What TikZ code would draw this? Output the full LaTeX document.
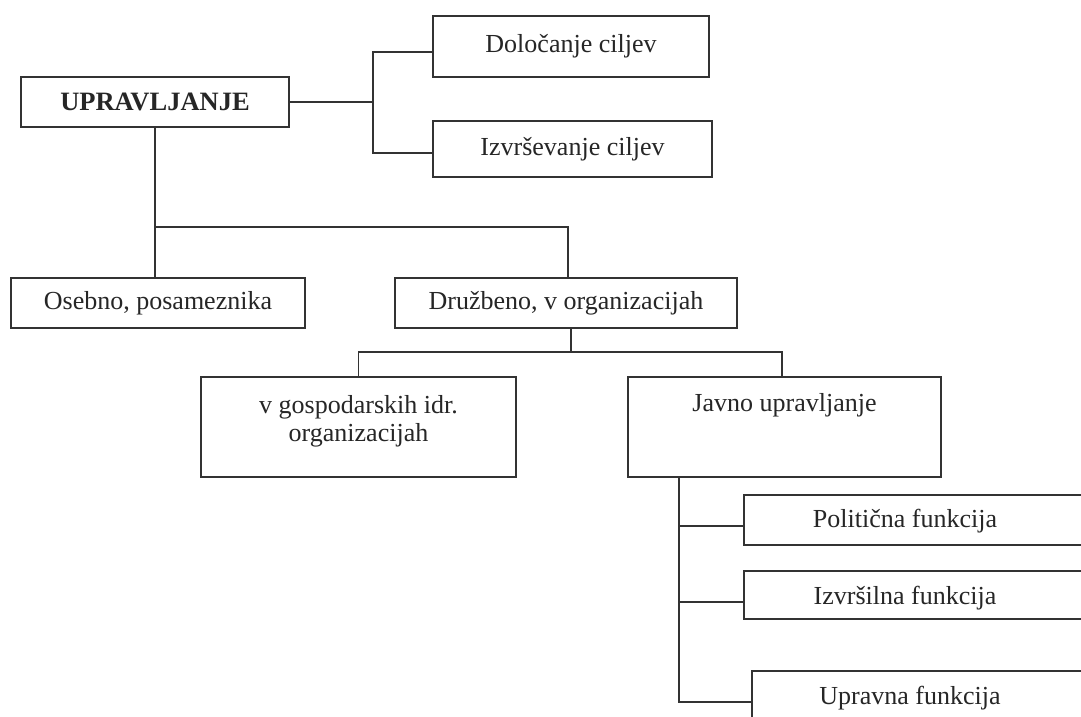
\documentclass[tikz,border=0pt]{standalone}
\usepackage{fontspec}
\setmainfont{Liberation Serif}
\begin{document}
\begin{tikzpicture}[x=1pt,y=-1pt,
  box/.style={draw=black!80,line width=1.4pt,rectangle,inner sep=0pt,
    font=\fontsize{26}{28}\selectfont,text=black!85},
  conn/.style={draw=black!80,line width=1.4pt},
  lab/.style={font=\fontsize{26}{28}\selectfont,text=black!85,align=center,inner sep=0pt}]
\useasboundingbox (0,0) rectangle (1081,716);
\fill[white] (0,0) rectangle (1081,716);
\clip (0,0) rectangle (1081,716);
% nodes
\node[box,minimum width=268,minimum height=50,font=\fontsize{26.5}{28}\selectfont\bfseries] (up) at (155,102) {UPRAVLJANJE};
\node[box,minimum width=276,minimum height=61] (dol) at (571,46.5) {Določanje ciljev};
\node[box,minimum width=279,minimum height=56] (izv) at (572.5,149) {Izvrševanje ciljev};
\node[box,minimum width=294,minimum height=50] (os) at (158,303) {Osebno, posameznika};
\node[box,minimum width=342,minimum height=50] (dr) at (566,303) {Družbeno, v organizacijah};
\node[box,minimum width=315,minimum height=100,
  label={[lab,yshift=6]center:v gospodarskih idr.\\organizacijah}] (gos) at (358.5,427) {};
\node[box,minimum width=313,minimum height=100,
  label={[lab,yshift=22]center:Javno upravljanje}] (jav) at (784.5,427) {};
\node[box,minimum width=356,minimum height=50,
  label={[lab,xshift=-17,yshift=-1]center:Politična funkcija}] (pol) at (922,520) {};
\node[box,minimum width=356,minimum height=48,
  label={[lab,xshift=-17,yshift=-3]center:Izvršilna funkcija}] (izf) at (922,595) {};
\node[box,minimum width=348,minimum height=62,
  label={[lab,xshift=-16,yshift=4]center:Upravna funkcija}] (upf) at (926,702) {};
% junction coordinates
\coordinate (j1) at (373,102);
\coordinate (j2) at (155,227);
\coordinate (j3) at (571,352);
\coordinate (j4) at (679,477);
% connectors
\draw[conn] (up.east) -- (j1);
\draw[conn] ([yshift=-5.5pt]dol.west) -| (j1) |- ([yshift=-4pt]izv.west);
\draw[conn] (up.south) -- (up.south |- os.north);
\draw[conn] (j2) -| ([xshift=2pt]dr.north);
\draw[conn] ([xshift=5pt]dr.south) -- (j3);
\draw[conn] (gos.north) |- (j3) -| ([xshift=-2.5pt]jav.north);
\draw[conn] (j4) |- (upf.west);
\draw[conn] ([yshift=-6pt]pol.west) -- ([yshift=-6pt]pol.west -| j4);
\draw[conn] ([yshift=-7pt]izf.west) -- ([yshift=-7pt]izf.west -| j4);
\end{tikzpicture}
\end{document}
